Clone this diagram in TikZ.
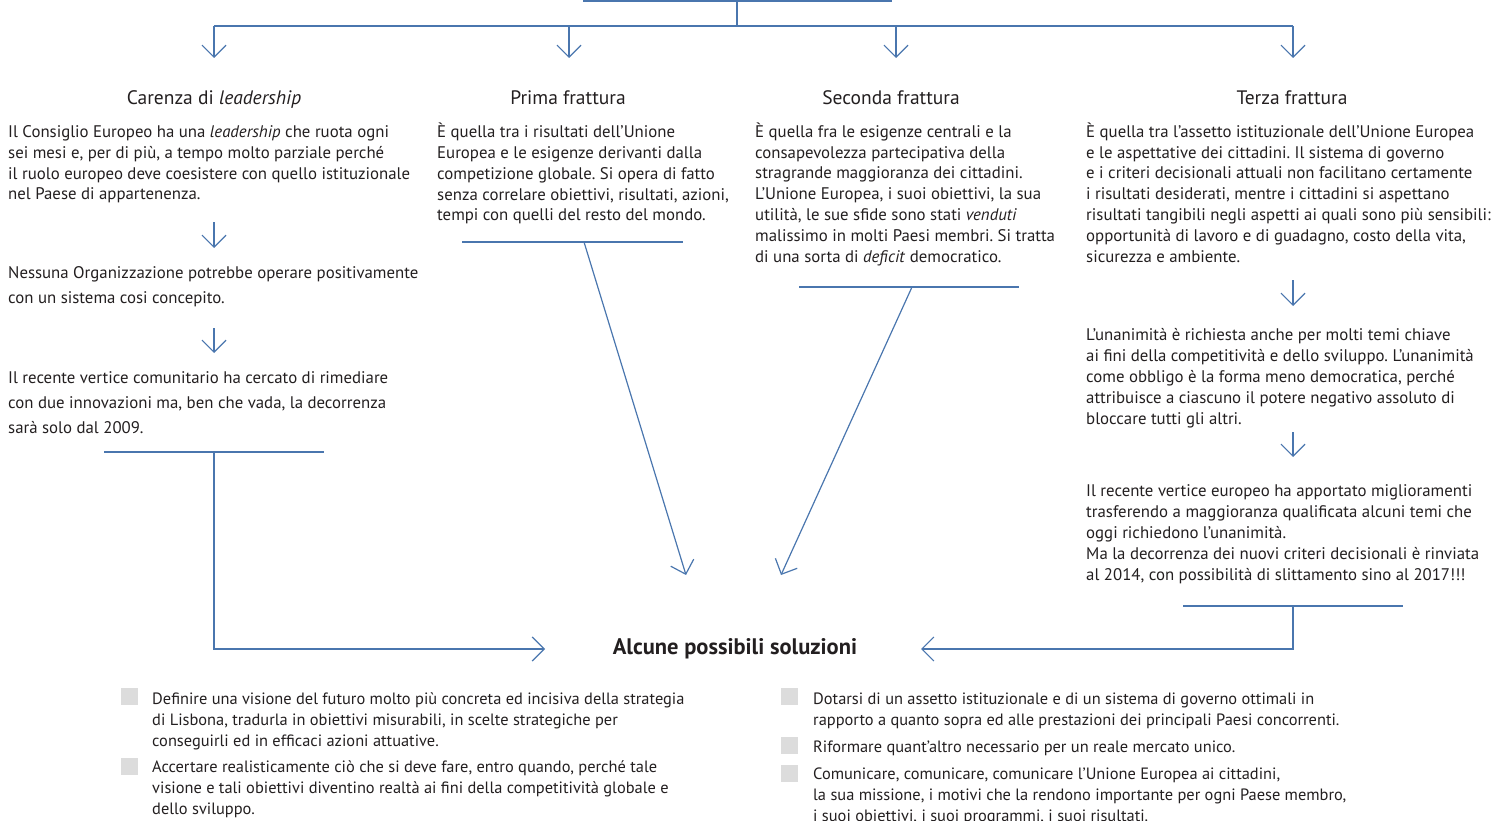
\documentclass[tikz,border=0pt]{standalone}
\usepackage{fontspec}
\setmainfont{PT Sans}
\usetikzlibrary{arrows.meta}
\definecolor{lineblue}{HTML}{4A76AE}
\definecolor{txt}{HTML}{231F20}
\definecolor{bulletgray}{HTML}{DCDCDC}
\frenchspacing
\begin{document}
\begin{tikzpicture}[x=1pt,y=-1pt,
  conn/.style={draw=lineblue, line width=1.2pt},
  arr/.style={conn, -{Straight Barb[length=12pt,width=24pt]}},
  body/.style={anchor=base west, inner sep=0pt, align=left, text=txt, font=\fontsize{16.8}{20.8}\selectfont},
  bodywide/.style={body, font=\fontsize{16.8}{24.7}\selectfont},
  itemtext/.style={body, font=\fontsize{16.4}{20.8}\selectfont},
  heading/.style={anchor=base, inner sep=0pt, text=txt, font=\fontsize{19.5}{23}\selectfont},
  soltitle/.style={anchor=base, inner sep=0pt, text=txt, font=\bfseries\fontsize{22.5}{26}\selectfont},
  bullet/.style={fill=bulletgray, draw=none, minimum size=17pt, inner sep=0pt, anchor=north west}
]
\useasboundingbox (0,0) rectangle (1504,821);

% top connector
\coordinate (topL) at (583,1);
\coordinate (topR) at (892,1);
\coordinate (topM) at (737,1);
\coordinate (hub) at (737,26);
\coordinate (hL) at (214,26);
\coordinate (hR) at (1293,26);
\draw[conn] (topL) -- (topR);
\draw[conn] (topM) -- (hub);
\draw[conn] (hL) -- (hR);
\coordinate (d1) at (214,26); \coordinate (e1) at (214,58);
\coordinate (d2) at (569,26); \coordinate (e2) at (569,58);
\coordinate (d3) at (896,26); \coordinate (e3) at (896,58);
\coordinate (d4) at (1293,26); \coordinate (e4) at (1293,58);
\draw[arr] (d1) -- (e1);
\draw[arr] (d2) -- (e2);
\draw[arr] (d3) -- (e3);
\draw[arr] (d4) -- (e4);

% headings
\node[heading] (h1) at (214,105) {Carenza di \textit{leadership}};
\node[heading] (h2) at (568,105) {Prima frattura};
\node[heading] (h3) at (891,105) {Seconda frattura};
\node[heading] (h4) at (1292,105) {Terza frattura};

% column 1
\node[body] (t1a) at (8,200) {Il Consiglio Europeo ha una \textit{leadership} che ruota ogni\\
sei mesi e, per di più, a tempo molto parziale perché\\
il ruolo europeo deve coesistere con quello istituzionale\\
nel Paese di appartenenza.};
\coordinate (a1s) at (214,222); \coordinate (a1e) at (214,248);
\draw[arr] (a1s) -- (a1e);
\node[bodywide] (t1b) at (8,303) {Nessuna Organizzazione potrebbe operare positivamente\\
con un sistema cosi concepito.};
\coordinate (a2s) at (214,328); \coordinate (a2e) at (214,353);
\draw[arr] (a2s) -- (a2e);
\node[bodywide] (t1c) at (8,433) {Il recente vertice comunitario ha cercato di rimediare\\
con due innovazioni ma, ben che vada, la decorrenza\\
sarà solo dal 2009.};
\coordinate (b1l) at (104,452); \coordinate (b1r) at (324,452); \coordinate (b1m) at (214,452);
\draw[conn] (b1l) -- (b1r);

% column 2
\node[body] (t2) at (437,221) {È quella tra i risultati dell'Unione\\
Europea e le esigenze derivanti dalla\\
competizione globale. Si opera di fatto\\
senza correlare obiettivi, risultati, azioni,\\
tempi con quelli del resto del mondo.};
\coordinate (b2l) at (462,242); \coordinate (b2r) at (683,242); \coordinate (b2m) at (584,242);
\draw[conn] (b2l) -- (b2r);

% column 3
\node[body] (t3) at (755,262) {È quella fra le esigenze centrali e la\\
consapevolezza partecipativa della\\
stragrande maggioranza dei cittadini.\\
L'Unione Europea, i suoi obiettivi, la sua\\
utilità, le sue sfide sono stati \textit{venduti}\\
malissimo in molti Paesi membri. Si tratta\\
di una sorta di \textit{deficit} democratico.};
\coordinate (b3l) at (799,287); \coordinate (b3r) at (1019,287); \coordinate (b3m) at (912,287);
\draw[conn] (b3l) -- (b3r);

% column 4
\node[body] (t4a) at (1086,262) {È quella tra l'assetto istituzionale dell'Unione Europea\\
e le aspettative dei cittadini. Il sistema di governo\\
e i criteri decisionali attuali non facilitano certamente\\
i risultati desiderati, mentre i cittadini si aspettano\\
risultati tangibili negli aspetti ai quali sono più sensibili:\\
opportunità di lavoro e di guadagno, costo della vita,\\
sicurezza e ambiente.};
\coordinate (a3s) at (1293,280); \coordinate (a3e) at (1293,306);
\draw[arr] (a3s) -- (a3e);
\node[body] (t4b) at (1086,424) {L'unanimità è richiesta anche per molti temi chiave\\
ai fini della competitività e dello sviluppo. L'unanimità\\
come obbligo è la forma meno democratica, perché\\
attribuisce a ciascuno il potere negativo assoluto di\\
bloccare tutti gli altri.};
\coordinate (a4s) at (1293,432); \coordinate (a4e) at (1293,457);
\draw[arr] (a4s) -- (a4e);
\node[body] (t4c) at (1086,580) {Il recente vertice europeo ha apportato miglioramenti\\
trasferendo a maggioranza qualificata alcuni temi che\\
oggi richiedono l'unanimità.\\
Ma la decorrenza dei nuovi criteri decisionali è rinviata\\
al 2014, con possibilità di slittamento sino al 2017!!!};
\coordinate (b4l) at (1183,606); \coordinate (b4r) at (1403,606); \coordinate (b4m) at (1293,606);
\draw[conn] (b4l) -- (b4r);

% solutions
\node[soltitle] (sol) at (735,654) {Alcune possibili soluzioni};
\coordinate (solL) at (545,649);
\coordinate (solR) at (921,649);
\coordinate (solT2) at (686,575);
\coordinate (solT3) at (781,575);
\draw[arr] (b1m) |- (solL);
\draw[arr] (b4m) |- (solR);
\draw[arr] (b2m) -- (solT2);
\draw[arr] (b3m) -- (solT3);

% bullets left
\node[bullet] (q1) at (121,688) {};
\node[itemtext] (s1) at (152,746) {Definire una visione del futuro molto più concreta ed incisiva della strategia\\
di Lisbona, tradurla in obiettivi misurabili, in scelte strategiche per\\
conseguirli ed in efficaci azioni attuative.};
\node[bullet] (q2) at (121,758) {};
\node[itemtext] (s2) at (152,814) {Accertare realisticamente ciò che si deve fare, entro quando, perché tale\\
visione e tali obiettivi diventino realtà ai fini della competitività globale e\\
dello sviluppo.};

% bullets right
\node[bullet] (q3) at (781,688) {};
\node[itemtext] (s3) at (813,725) {Dotarsi di un assetto istituzionale e di un sistema di governo ottimali in\\
rapporto a quanto sopra ed alle prestazioni dei principali Paesi concorrenti.};
\node[bullet] (q4) at (781,737) {};
\node[itemtext] (s4) at (813,752) {Riformare quant'altro necessario per un reale mercato unico.};
\node[bullet] (q5) at (781,765) {};
\node[itemtext] (s5) at (813,821) {Comunicare, comunicare, comunicare l'Unione Europea ai cittadini,\\
la sua missione, i motivi che la rendono importante per ogni Paese membro,\\
i suoi obiettivi, i suoi programmi, i suoi risultati.};
\end{tikzpicture}
\end{document}
